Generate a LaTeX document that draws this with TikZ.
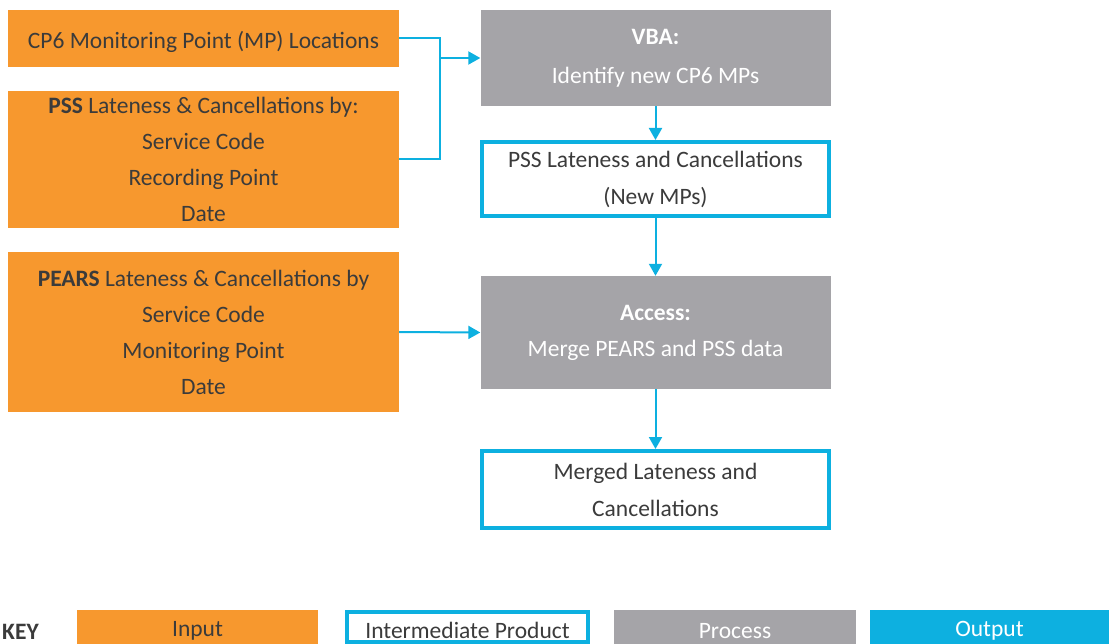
\documentclass[tikz,border=0pt]{standalone}
\usepackage{fontspec}
\setmainfont{Carlito}
\usetikzlibrary{arrows.meta}
\definecolor{inorange}{HTML}{F7982E}
\definecolor{procgray}{HTML}{A5A4A8}
\definecolor{outcyan}{HTML}{0DB0E0}
\definecolor{txt}{HTML}{3B3B3B}
\tikzset{
  base/.style={inner sep=0pt, align=center, font=\fontsize{23.5}{36}\selectfont,
    execute at begin node={\rule{0pt}{23.5pt}}},
  inputbox/.style={base, fill=inorange, text=txt, draw=none},
  procbox/.style={base, fill=procgray, text=white, draw=none},
  interbox/.style={base, fill=white, draw=outcyan, line width=4pt, text=txt},
  outbox/.style={base, fill=outcyan, text=white, draw=none},
  flow/.style={draw=outcyan, line width=2pt, -{Triangle[length=12pt,width=13pt]}},
  link/.style={draw=outcyan, line width=2pt}
}
\begin{document}
\begin{tikzpicture}[x=1pt,y=-1pt]
\useasboundingbox (0,0) rectangle (1109,644);

% inputs
\node[inputbox, minimum width=391, minimum height=57] (cp6) at (203.5,38.5)
  {CP6 Monitoring Point (MP) Locations};
\node[inputbox, minimum width=391, minimum height=137] (pss) at (203.5,159.5)
  {\textbf{PSS} Lateness \& Cancellations by:\\Service Code\\Recording Point\\Date};
\node[inputbox, minimum width=391, minimum height=160] (pears) at (203.5,332)
  {\textbf{PEARS} Lateness \& Cancellations by\\Service Code\\Monitoring Point\\Date};

% processes and products
\node[procbox, minimum width=350, minimum height=96, font=\fontsize{23.5}{39}\selectfont] (vba) at (655.5,58)
  {\textbf{VBA:}\\Identify new CP6 MPs};
\node[interbox, minimum width=347, minimum height=74, font=\fontsize{23.5}{37}\selectfont] (newmp) at (655.5,179)
  {PSS Lateness and Cancellations\\(New MPs)};
\node[procbox, minimum width=350, minimum height=113] (access) at (655.5,332.5)
  {\textbf{Access:}\\Merge PEARS and PSS data};
\node[interbox, minimum width=347, minimum height=77, font=\fontsize{23.5}{37}\selectfont] (merged) at (655.5,489.5)
  {Merged Lateness and\\Cancellations};

% connectors
\coordinate (jn) at (440,58);
\draw[link] (cp6.east) -| (jn) |- (pss.east);
\draw[flow] (jn) -- (vba.west);
\draw[flow] (vba.south) -- (newmp.north);
\draw[flow] (newmp.south) -- (access.north);
\draw[flow] (pears.east) -- (access.west);
\draw[flow] (access.south) -- (merged.north);

% key
\node[base, text=txt, anchor=west] (key) at (2,628) {\textbf{KEY}};
\node[inputbox, minimum width=241, minimum height=34] (kin) at (197.5,627) {Input};
\node[interbox, minimum width=241, minimum height=30] (kint) at (467.5,627) {Intermediate Product};
\node[procbox, minimum width=242, minimum height=34] (kproc) at (735,627) {Process};
\node[outbox, minimum width=239, minimum height=34] (kout) at (989.5,627) {Output};
\end{tikzpicture}
\end{document}
